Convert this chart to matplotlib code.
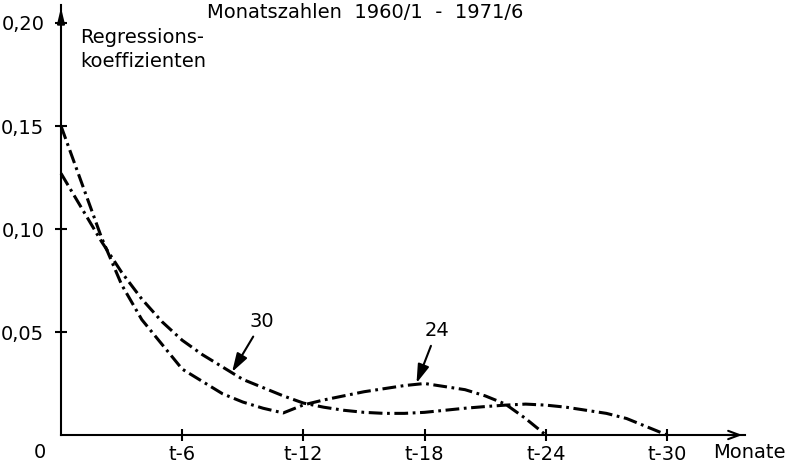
import numpy as np
import matplotlib.pyplot as plt

# Regressionskoeffizienten je Lag (Monate)
lag24 = list(range(0, 25))
koef24 = [0.150, 0.123, 0.096, 0.073, 0.056, 0.044, 0.032, 0.026, 0.020, 0.016,
          0.013, 0.0107, 0.0146, 0.017, 0.019, 0.021, 0.0225, 0.024, 0.025, 0.0235,
          0.022, 0.019, 0.015, 0.008, 0.0]

lag30 = list(range(0, 31))
koef30 = [0.127, 0.1105, 0.094, 0.079, 0.066, 0.055, 0.046, 0.039, 0.033, 0.027,
          0.023, 0.019, 0.0155, 0.0135, 0.012, 0.011, 0.0105, 0.0105, 0.011, 0.012,
          0.013, 0.0138, 0.0145, 0.015, 0.0145, 0.0135, 0.012, 0.0105, 0.008, 0.004,
          0.0]

xticks = [6, 12, 18, 24, 30]
xlabels = ["t-6", "t-12", "t-18", "t-24", "t-30"]
yticks = [0.05, 0.10, 0.15, 0.20]
ylabels = ["0,05", "0,10", "0,15", "0,20"]

plt.rcParams['font.family'] = ['DejaVu Sans']
fig = plt.figure(figsize=(7.85, 4.67), dpi=100)
W, H = 785, 467
x0, x1 = 61, 745
y0, y1 = 435, 5
ax = fig.add_axes([x0 / W, 1 - y0 / H, (x1 - x0) / W, (y0 - y1) / H])
ax.set_xlim(0, (x1 - x0) / 20.2)
ax.set_ylim(0, (y0 - y1) / 2060)

ls = (0, (4.5, 1.5, 0.9, 1.5))
ax.plot(lag24, koef24, color="black", lw=2.2, linestyle=ls, clip_on=False)
ax.plot(lag30, koef30, color="black", lw=2.2, linestyle=ls, clip_on=False)

for s in ["top", "right"]:
    ax.spines[s].set_visible(False)
ax.spines["left"].set_linewidth(1.5)
ax.spines["bottom"].set_linewidth(1.5)

# Pfeile an den Achsen
ax.annotate("", xy=(1, 0), xytext=(0.97, 0), xycoords="axes fraction",
            arrowprops=dict(arrowstyle="->,head_length=0.8,head_width=0.3", lw=1.5, color="black"))
ax.annotate("", xy=(0, 1), xytext=(0, 0.95), xycoords="axes fraction",
            arrowprops=dict(arrowstyle="-|>,head_length=0.9,head_width=0.22", lw=1.5, color="black"))

ax.set_xticks(xticks)
ax.set_xticklabels(xlabels)
ax.set_yticks(yticks)
ax.set_yticklabels(ylabels)
ax.tick_params(axis="both", direction="inout", length=8, width=1.5, labelsize=14)
ax.tick_params(axis="y", pad=8)
ax.tick_params(axis="x", pad=3)

ax.text(-1.05, -0.0083, "0", fontsize=14, ha="center", va="center", clip_on=False)
ax.text(32.3, -0.0083, "Monate", fontsize=14, ha="left", va="center", clip_on=False)

fig.text(0.465, 0.974, "Monatszahlen  1960/1  -  1971/6", fontsize=14, ha="center", va="center")
ax.text(0.95, 0.187, "Regressions-\nkoeffizienten", fontsize=14, ha="left", va="center",
        linespacing=1.35)

ax.annotate("30", xy=(8.47, 0.0306), xytext=(9.95, 0.0549), fontsize=14, ha="center", va="center",
            arrowprops=dict(arrowstyle="-|>,head_length=0.8,head_width=0.25", lw=1.5, color="black",
                            shrinkA=2, shrinkB=0))
ax.annotate("24", xy=(17.6, 0.0252), xytext=(18.6, 0.0505), fontsize=14, ha="center", va="center",
            arrowprops=dict(arrowstyle="-|>,head_length=0.8,head_width=0.25", lw=1.5, color="black",
                            shrinkA=2, shrinkB=0))

fig.savefig("out.png", dpi=100)
